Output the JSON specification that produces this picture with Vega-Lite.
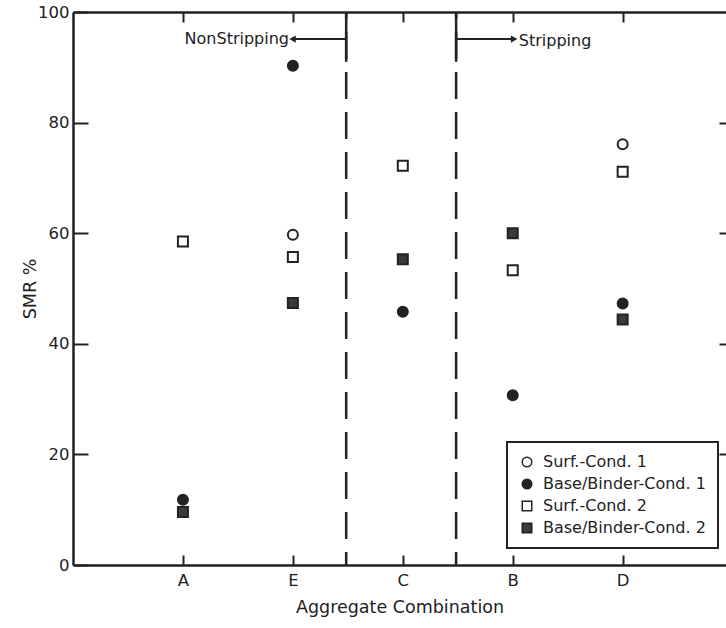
{
  "$schema": "https://vega.github.io/schema/vega-lite/v6.json",
  "width": 653,
  "height": 553,
  "autosize": "none",
  "padding": {"left": 73, "top": 12, "right": 0, "bottom": 63},
  "background": "white",
  "config": {
    "view": {"stroke": null},
    "font": "DejaVu Sans",
    "axis": {
      "domainColor": "#222",
      "domainWidth": 2.5,
      "tickColor": "#222",
      "tickWidth": 2,
      "labelColor": "#222",
      "titleColor": "#222",
      "grid": false,
      "labelFontSize": 16.5,
      "titleFontSize": 17.5,
      "titleFontWeight": "normal"
    },
    "legend": {"strokeWidth": 2}
  },
  "datasets": {
    "points": [
      {"agg": "A", "idx": 1, "series": "Base/Binder-Cond. 1", "smr": 11.8},
      {"agg": "A", "idx": 1, "series": "Surf.-Cond. 2", "smr": 58.5},
      {"agg": "A", "idx": 1, "series": "Base/Binder-Cond. 2", "smr": 9.6},
      {"agg": "E", "idx": 2, "series": "Surf.-Cond. 1", "smr": 59.7},
      {"agg": "E", "idx": 2, "series": "Base/Binder-Cond. 1", "smr": 90.3},
      {"agg": "E", "idx": 2, "series": "Surf.-Cond. 2", "smr": 55.7},
      {"agg": "E", "idx": 2, "series": "Base/Binder-Cond. 2", "smr": 47.4},
      {"agg": "C", "idx": 3, "series": "Surf.-Cond. 2", "smr": 72.2},
      {"agg": "C", "idx": 3, "series": "Base/Binder-Cond. 2", "smr": 55.3},
      {"agg": "C", "idx": 3, "series": "Base/Binder-Cond. 1", "smr": 45.8},
      {"agg": "B", "idx": 4, "series": "Base/Binder-Cond. 2", "smr": 60.0},
      {"agg": "B", "idx": 4, "series": "Surf.-Cond. 2", "smr": 53.3},
      {"agg": "B", "idx": 4, "series": "Base/Binder-Cond. 1", "smr": 30.7},
      {"agg": "D", "idx": 5, "series": "Surf.-Cond. 1", "smr": 76.1},
      {"agg": "D", "idx": 5, "series": "Surf.-Cond. 2", "smr": 71.1},
      {"agg": "D", "idx": 5, "series": "Base/Binder-Cond. 1", "smr": 47.3},
      {"agg": "D", "idx": 5, "series": "Base/Binder-Cond. 2", "smr": 44.4}
    ],
    "dividers": [{"x": 2.485}, {"x": 3.485}],
    "dividerTops": [{"x": 2.485, "y": 91, "y2": 100}, {"x": 3.485, "y": 91, "y2": 100}],
    "arrows": [
      {"x": 2.485, "x2": 2.02, "y": 95.1},
      {"x": 3.485, "x2": 3.99, "y": 95.1}
    ],
    "headLeft": [{"x": 1.997, "y": 95.1}],
    "headRight": [{"x": 4.013, "y": 95.1}],
    "labelLeft": [{"x": 1.965, "y": 95.1, "text": "NonStripping"}],
    "labelRight": [{"x": 4.055, "y": 94.8, "text": "Stripping"}]
  },
  "layer": [
    {
      "data": {"name": "dividers"},
      "mark": {"type": "rule", "color": "#222", "strokeWidth": 2.5, "strokeDash": [27, 13], "strokeDashOffset": 20},
      "encoding": {
        "x": {"field": "x", "type": "quantitative", "scale": {"domain": [0, 5.94], "nice": false, "zero": false},
          "axis": {"orient": "top", "values": [1, 2, 3, 4, 5], "labels": false, "tickSize": -10, "title": null}}
      }
    },
    {
      "data": {"name": "dividerTops"},
      "mark": {"type": "rule", "color": "#222", "strokeWidth": 2.5},
      "encoding": {
        "x": {"field": "x", "type": "quantitative", "axis": null},
        "y": {"field": "y", "type": "quantitative", "axis": null},
        "y2": {"field": "y2"}
      }
    },
    {
      "data": {"name": "arrows"},
      "mark": {"type": "rule", "color": "#222", "strokeWidth": 2},
      "encoding": {
        "x": {"field": "x", "type": "quantitative", "axis": null},
        "x2": {"field": "x2"},
        "y": {"field": "y", "type": "quantitative", "scale": {"domain": [0, 100], "nice": false},
          "axis": {"orient": "right", "values": [20, 40, 60, 80], "labels": false, "domain": false, "tickSize": -7, "title": null}}
      }
    },
    {
      "data": {"name": "headLeft"},
      "mark": {"type": "point", "shape": "triangle-left", "filled": true, "color": "#222", "size": 55, "opacity": 1},
      "encoding": {
        "x": {"field": "x", "type": "quantitative", "axis": null},
        "y": {"field": "y", "type": "quantitative", "axis": null}
      }
    },
    {
      "data": {"name": "headRight"},
      "mark": {"type": "point", "shape": "triangle-right", "filled": true, "color": "#222", "size": 55, "opacity": 1},
      "encoding": {
        "x": {"field": "x", "type": "quantitative", "axis": null},
        "y": {"field": "y", "type": "quantitative", "axis": null}
      }
    },
    {
      "data": {"name": "labelLeft"},
      "mark": {"type": "text", "fontSize": 16, "color": "#222", "baseline": "middle", "align": "right"},
      "encoding": {
        "x": {"field": "x", "type": "quantitative", "axis": null},
        "y": {"field": "y", "type": "quantitative", "axis": null},
        "text": {"field": "text"}
      }
    },
    {
      "data": {"name": "labelRight"},
      "mark": {"type": "text", "fontSize": 16, "color": "#222", "baseline": "middle", "align": "left"},
      "encoding": {
        "x": {"field": "x", "type": "quantitative", "axis": null},
        "y": {"field": "y", "type": "quantitative", "axis": null},
        "text": {"field": "text"}
      }
    },
    {
      "data": {"name": "points"},
      "mark": {"type": "point", "filled": true, "stroke": "#222", "strokeWidth": 2, "size": 100, "opacity": 1},
      "encoding": {
        "x": {"field": "idx", "type": "quantitative",
          "axis": {"orient": "bottom", "values": [1, 2, 3, 4, 5], "labelExpr": "['','A','E','C','B','D'][datum.value]",
            "tickSize": -10, "labelPadding": 17, "title": "Aggregate Combination", "titlePadding": 10}},
        "y": {"field": "smr", "type": "quantitative",
          "axis": {"orient": "left", "values": [0, 20, 40, 60, 80, 100], "tickSize": -15, "labelPadding": 19, "title": "SMR %", "titlePadding": -2}},
        "fill": {"field": "series", "type": "nominal",
          "scale": {"domain": ["Surf.-Cond. 1", "Base/Binder-Cond. 1", "Surf.-Cond. 2", "Base/Binder-Cond. 2"],
            "range": ["white", "#222", "white", "#3a3a3a"]},
          "legend": {"title": null, "orient": "none", "legendX": 434, "legendY": 430, "strokeColor": "#222",
            "padding": 12, "rowPadding": 6, "labelFontSize": 16, "labelColor": "#222", "symbolSize": 90, "labelOffset": 8,
            "labelLimit": 300, "fillColor": "white",
            "encode": {"symbols": {"update": {"stroke": {"value": "#222"}, "strokeWidth": {"value": 2}}}}}},
        "shape": {"field": "series", "type": "nominal",
          "scale": {"domain": ["Surf.-Cond. 1", "Base/Binder-Cond. 1", "Surf.-Cond. 2", "Base/Binder-Cond. 2"],
            "range": ["circle", "circle", "square", "square"]},
          "legend": {"title": null, "orient": "none", "legendX": 434, "legendY": 430, "strokeColor": "#222",
            "padding": 12, "rowPadding": 6, "labelFontSize": 16, "labelColor": "#222", "symbolSize": 90, "labelOffset": 8,
            "labelLimit": 300, "fillColor": "white",
            "encode": {"symbols": {"update": {"stroke": {"value": "#222"}, "strokeWidth": {"value": 2}}}}}}
      }
    }
  ],
  "resolve": {"axis": {"x": "independent", "y": "independent"}}
}
